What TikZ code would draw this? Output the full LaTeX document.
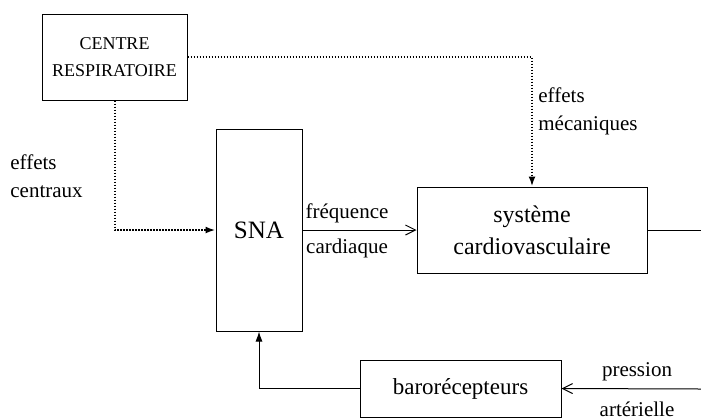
\documentclass[tikz,border=0pt]{standalone}
\usepackage{fontspec}
\setmainfont{Liberation Serif}
\usetikzlibrary{arrows.meta}
\begin{document}
\begin{tikzpicture}[x=0.5pt,y=-0.5pt,
  box/.style={draw,line width=0.5pt,inner sep=0pt,align=center},
  lbl/.style={inner sep=0pt,font=\fontsize{10.5}{14}\selectfont,align=left},
  infl/.style={line width=1pt,dash pattern=on 0.8pt off 0.7pt,-{Latex[length=5pt,width=3.5pt]}},
  sig/.style={line width=0.5pt,-{Straight Barb[length=5pt,width=5pt]}}]
  \useasboundingbox (0,0) rectangle (701,419);
  % blocs
  \node[box,minimum width=72.5pt,minimum height=43pt,font=\fontsize{9}{13.5}\selectfont]
    (centre) at (114.5,57) {CENTRE\\RESPIRATOIRE};
  \node[box,minimum width=43pt,minimum height=101pt,font=\fontsize{12.5}{15}\selectfont]
    (sna) at (259,230) {SNA};
  \node[box,minimum width=115pt,minimum height=43pt,font=\fontsize{12}{16}\selectfont]
    (cardio) at (532,230) {système\\cardiovasculaire};
  \node[box,minimum width=100.5pt,minimum height=28.5pt,font=\fontsize{11.5}{14}\selectfont]
    (baro) at (460.5,388.5) {barorécepteurs};
  \coordinate (sortie) at (701,230);
  \coordinate (entree) at (701,389);
  % liaisons
  \draw[infl] (centre.south) |- (sna.west);
  \draw[infl] (centre.east) -| (cardio.north);
  \draw[sig] (sna.east) -- (cardio.west);
  \draw[line width=0.5pt] (cardio.east) -- (sortie);
  \draw[sig] (entree) -- (baro.east);
  \draw[line width=0.5pt,-{Latex[length=5pt,width=3.5pt]}] (baro.west) -| (sna.south);
  % etiquettes
  \node[lbl,anchor=west] (centraux) at (10,176) {effets\\centraux};
  \node[lbl,anchor=west] (meca) at (538,111) {effets\\mécaniques};
  \node[lbl] (freq) at (347,213) {fréquence};
  \node[lbl] (cardiaque) at (347,248) {cardiaque};
  \node[lbl] (pression) at (637,372) {pression};
  \node[lbl] (arterielle) at (637,409) {artérielle};
\end{tikzpicture}
\end{document}
